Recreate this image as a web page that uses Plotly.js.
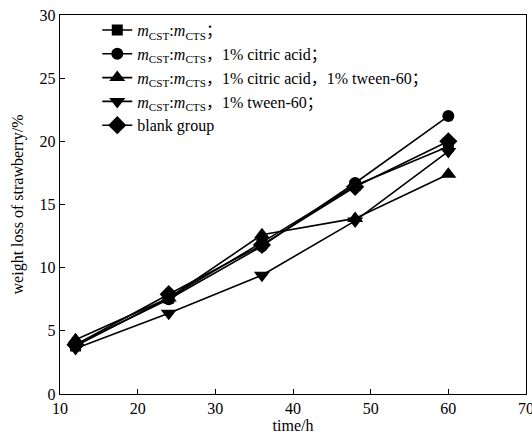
<!DOCTYPE html>
<html><head><meta charset="utf-8">
<script src="https://cdn.plot.ly/plotly-3.0.1.min.js"></script>
<style>body{margin:0;background:#fff}</style>
</head><body>
<div id="chart" style="width:532px;height:436px"></div>
<script>
const timeH = [12, 24, 36, 48, 60];
const cjk = s => '<span style="font-family:Noto Sans CJK SC">' + s + '</span>';
const mRatio = '<i>m</i><sub>CST</sub>:<i>m</i><sub>CTS</sub>';
const seriesNames = [
  mRatio + cjk('；'),
  mRatio + cjk('，') + '1% citric acid' + cjk('；'),
  mRatio + cjk('，') + '1% citric acid' + cjk('，') + '1% tween-60' + cjk('；'),
  mRatio + cjk('，') + '1% tween-60' + cjk('；'),
  'blank group'
];
const squareVals   = [3.8, 7.6, 12.0, 16.5, 19.6];
const circleVals   = [3.9, 7.5, 11.7, 16.7, 22.0];
const triUpVals    = [4.3, 7.6, 12.6, 13.9, 17.4];
const triDownVals  = [3.6, 6.4, 9.4, 13.7, 19.2];
const blankVals    = [3.9, 7.9, 11.8, 16.4, 20.0];

const symbols = ['square', 'circle', 'triangle-up', 'triangle-down', 'diamond'];
const sizes = [11, 12, 14, 14, 14];
const allVals = [squareVals, circleVals, triUpVals, triDownVals, blankVals];

const traces = allVals.map((v, i) => ({
  x: timeH, y: v, name: seriesNames[i], type: 'scatter', mode: 'lines+markers',
  line: {color: '#000', width: 1.6},
  marker: {symbol: symbols[i], size: sizes[i], color: '#000'}
}));

const font = {family: 'Liberation Serif, Times New Roman, serif', size: 16, color: '#000'};
const layout = {
  width: 532, height: 436,
  margin: {l: 60, r: 6, t: 15, b: 42},
  paper_bgcolor: '#fff', plot_bgcolor: '#fff',
  font: font,
  showlegend: true,
  legend: {x: 0.08, y: 1.005, xanchor: 'left', yanchor: 'top', bgcolor: 'rgba(0,0,0,0)',
           font: font, tracegroupgap: 0, itemwidth: 30},
  xaxis: {range: [10, 70], dtick: 10, tick0: 10, ticks: 'inside', ticklen: 5, tickcolor: '#000',
          ticklabeloverflow: 'allow',
          showline: true, linecolor: '#000', linewidth: 1.2, mirror: true, showgrid: false, zeroline: false,
          title: {text: 'time/h', font: font, standoff: 2}, tickfont: font},
  yaxis: {range: [0, 30], dtick: 5, ticks: 'inside', ticklen: 5, tickcolor: '#000',
          showline: true, linecolor: '#000', linewidth: 1.2, mirror: true, showgrid: false, zeroline: false,
          title: {text: 'weight loss of strawberry/%', font: font, standoff: 12}, tickfont: font}
};
Plotly.newPlot('chart', traces, layout, {displayModeBar: false, staticPlot: true});
</script>
</body></html>
